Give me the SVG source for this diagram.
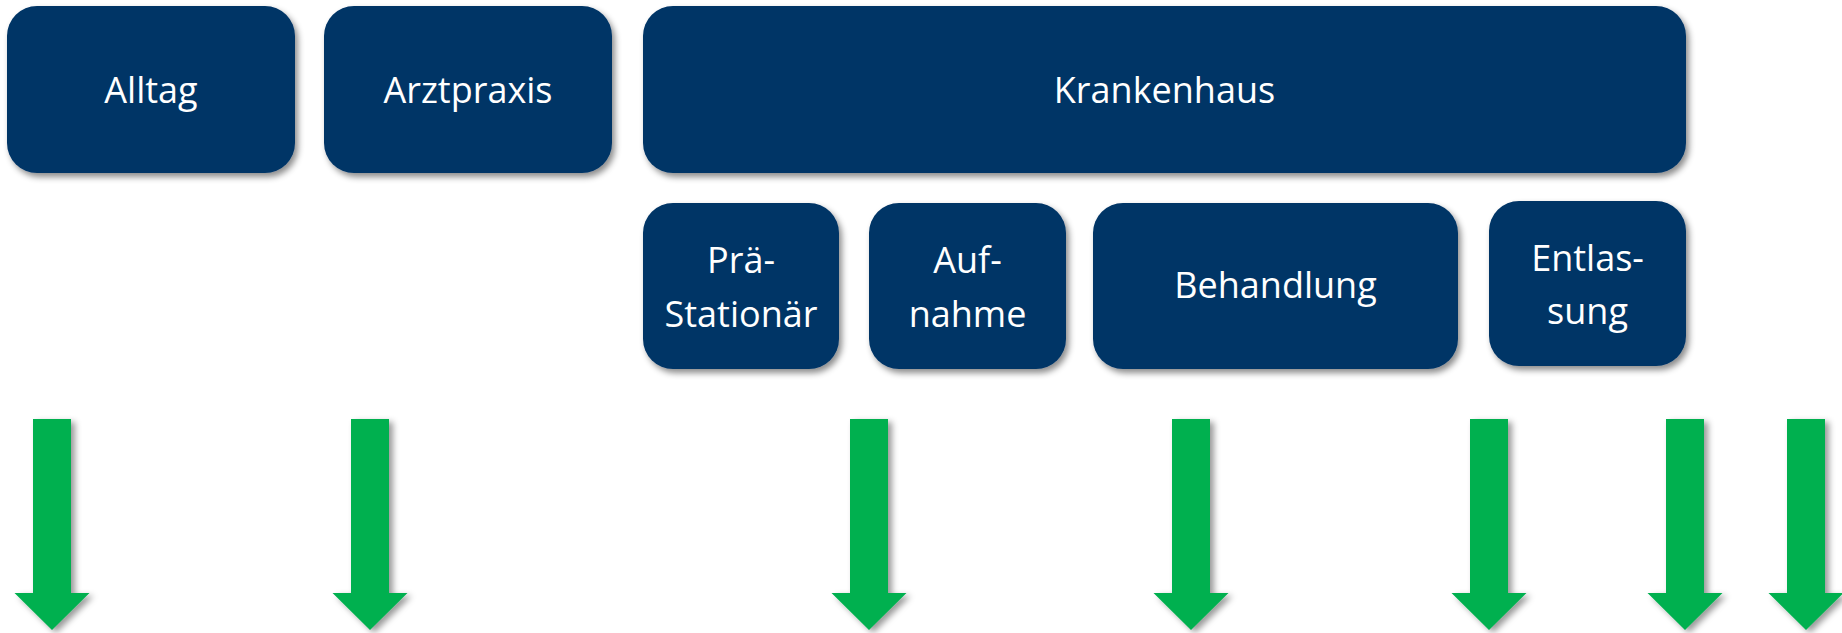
<svg xmlns="http://www.w3.org/2000/svg" width="1842" height="633" viewBox="0 0 1842 633">
  <defs>
    <filter id="sh" x="-10%" y="-10%" width="130%" height="130%">
      <feDropShadow dx="3" dy="4" stdDeviation="3" flood-color="#000" flood-opacity="0.45"/>
    </filter>
    <filter id="ash" x="-30%" y="-5%" width="170%" height="115%">
      <feDropShadow dx="4" dy="3" stdDeviation="3" flood-color="#000" flood-opacity="0.4"/>
    </filter>
    <path id="arrow" d="M -19 0 H 19 V 174 H 37.5 L 0 211 L -37.5 174 H -19 Z"/>
  </defs>
  <style>
    .box { fill: #033566; filter: url(#sh); }
    .lbl { fill: #ffffff; font-family: "Open Sans", "Noto Sans", sans-serif; font-size: 36px; text-anchor: middle; }
    .arr { fill: #00B050; filter: url(#ash); }
  </style>
  <rect width="1842" height="633" fill="#ffffff"/>

  <g id="alltag">
    <rect class="box" x="7" y="6" width="288" height="167" rx="30"/>
    <text class="lbl" x="151" y="103">Alltag</text>
  </g>
  <g id="arztpraxis">
    <rect class="box" x="324" y="6" width="288" height="167" rx="30"/>
    <text class="lbl" x="468" y="103">Arztpraxis</text>
  </g>
  <g id="krankenhaus">
    <rect class="box" x="643" y="6" width="1043" height="167" rx="30"/>
    <text class="lbl" x="1164.5" y="103">Krankenhaus</text>
  </g>
  <g id="praestationaer">
    <rect class="box" x="643" y="203" width="196" height="166" rx="30"/>
    <text class="lbl" x="741" y="273">Prä-</text>
    <text class="lbl" x="741" y="327">Stationär</text>
  </g>
  <g id="aufnahme">
    <rect class="box" x="869" y="203" width="197" height="166" rx="30"/>
    <text class="lbl" x="967.5" y="273">Auf-</text>
    <text class="lbl" x="967.5" y="327">nahme</text>
  </g>
  <g id="behandlung">
    <rect class="box" x="1093" y="203" width="365" height="166" rx="30"/>
    <text class="lbl" x="1275.5" y="298">Behandlung</text>
  </g>
  <g id="entlassung">
    <rect class="box" x="1489" y="201" width="197" height="165" rx="30"/>
    <text class="lbl" x="1587.5" y="271">Entlas-</text>
    <text class="lbl" x="1587.5" y="324">sung</text>
  </g>

  <g id="connectors">
    <use class="arr" href="#arrow" x="52" y="419"/>
    <use class="arr" href="#arrow" x="370" y="419"/>
    <use class="arr" href="#arrow" x="869" y="419"/>
    <use class="arr" href="#arrow" x="1191" y="419"/>
    <use class="arr" href="#arrow" x="1489" y="419"/>
    <use class="arr" href="#arrow" x="1685" y="419"/>
    <use class="arr" href="#arrow" x="1806" y="419"/>
  </g>
</svg>
